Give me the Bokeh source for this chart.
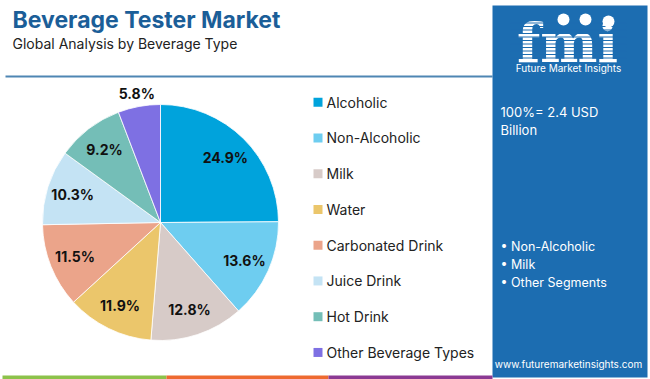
import math
from bokeh.plotting import figure
from bokeh.models import Range1d, ColumnDataSource
from bokeh.core.properties import value
from bokeh.embed import file_html
from bokeh.resources import INLINE

# ---- data ----
categories = ["Alcoholic", "Non-Alcoholic", "Milk", "Water", "Carbonated Drink",
              "Juice Drink", "Hot Drink", "Other Beverage Types"]
shares = [24.9, 13.6, 12.8, 11.9, 11.5, 10.3, 9.2, 5.8]
colors = ["#00A3DC", "#6ECDF0", "#D7CBC8", "#EBC66B", "#EBA48A", "#C4E3F4", "#74BEB7", "#7E70E3"]
title = "Beverage Tester Market"
subtitle = "Global Analysis by Beverage Type"
total_text = ["100%= 2.4 USD", "Billion"]
key_segments = ["Non-Alcoholic", "Milk", "Other Segments"]
url = "www.futuremarketinsights.com"

W, H = 650, 379
FONT = "Inter"

def X(x):  # page x -> data x
    return x

def Y(y):  # page y -> data y
    return H - y

p = figure(width=W, height=H, x_range=Range1d(0, W), y_range=Range1d(0, H),
           x_axis_type=None, y_axis_type=None, toolbar_location=None,
           output_backend="svg", min_border=0)
p.outline_line_color = None
p.grid.visible = False
p.background_fill_color = "white"
p.border_fill_color = "white"

# ---- title ----
p.text(x=[X(12)], y=[Y(19)], text=[title], text_font=value(FONT), text_font_style="bold",
       text_font_size="23px", text_color="#1B5E98", text_baseline="middle", text_align="left")
p.text(x=[X(12)], y=[Y(43)], text=[subtitle], text_font=value(FONT),
       text_font_size="14px", text_color="#222222", text_baseline="middle", text_align="left")
p.segment(x0=[X(5)], y0=[Y(76)], x1=[X(492)], y1=[Y(76)], line_color="#4F86B3", line_width=2)

# ---- pie ----
cx, cy, r = X(160), Y(222), 118
total = sum(shares)
starts, ends, lx, ly, labels = [], [], [], [], []
cum = 0.0
for v in shares:
    a0 = math.pi / 2 - 2 * math.pi * (cum + v) / total
    a1 = math.pi / 2 - 2 * math.pi * cum / total
    starts.append(a0)
    ends.append(a1)
    mid = (a0 + a1) / 2
    d = r * (1.11 if v < 6 else 0.78)
    lx.append(cx + d * math.cos(mid))
    ly.append(cy + d * math.sin(mid))
    labels.append(f"{v:.1f}%")
    cum += v

src = ColumnDataSource(dict(start=starts, end=ends, color=colors, lx=lx, ly=ly, label=labels))
p.wedge(x=cx, y=cy, radius=r, start_angle="start", end_angle="end", fill_color="color",
        line_color="white", line_width=0.8, source=src)
p.text(x="lx", y="ly", text="label", text_font=value(FONT), text_font_style="bold",
       text_font_size="14px", text_color="#111111", text_align="center",
       text_baseline="middle", source=src)

# ---- legend ----
leg_y = [Y(101.7 + 35.75 * i) for i in range(len(categories))]
leg_src = ColumnDataSource(dict(x=[X(317.5)] * len(categories), tx=[X(326)] * len(categories),
                                y=leg_y, name=categories, color=colors))
p.rect(x="x", y="y", width=9, height=9, fill_color="color", line_color=None, source=leg_src)
p.text(x="tx", y="y", text="name", text_font=value(FONT), text_font_size="14px",
       text_color="#222222", text_baseline="middle", text_align="left", source=leg_src)

# ---- right panel ----
PANEL = "#1C6DB1"
p.quad(left=X(492), right=X(647), bottom=Y(377), top=Y(5), fill_color=PANEL, line_color=None)

# logo
p.text(x=[X(567)], y=[Y(42)], text=["fmi"], text_font=value("DejaVu Serif"), text_font_style="bold",
       text_font_size="54px", text_color="white", text_align="center", text_baseline="alphabetic")
for i in range(12):
    yy = Y(19 + i * 3.5)
    p.segment(x0=[X(510)], y0=[yy], x1=[X(626)], y1=[yy], line_color=PANEL, line_width=1)
p.scatter(x=[X(563), X(585), X(608)], y=[Y(19), Y(19), Y(21)], size=12, marker="circle",
          fill_color="white", line_color=None)
p.text(x=[X(568)], y=[Y(67)], text=["Future Market Insights"], text_font=value(FONT),
       text_font_size="10px", text_color="white", text_align="center", text_baseline="middle")

p.text(x=[X(500)] * 2, y=[Y(111), Y(129)], text=total_text, text_font=value(FONT),
       text_font_size="13px", text_color="white", text_align="left", text_baseline="middle")
p.text(x=[X(500)] * 3, y=[Y(246), Y(264), Y(282)], text=["• " + s for s in key_segments],
       text_font=value(FONT), text_font_size="12.5px", text_color="white",
       text_align="left", text_baseline="middle")
p.text(x=[X(568)], y=[Y(363)], text=[url], text_font=value(FONT), text_font_size="10px",
       text_color="white", text_align="center", text_baseline="middle")

# ---- bottom bar ----
p.quad(left=[X(2), X(166), X(328)], right=[X(166), X(328), X(492)], bottom=[Y(379)] * 3,
       top=[Y(375)] * 3, fill_color=["#8CC24A", "#EE6A30", "#8B3A93"], line_color=None)

open("out.html", "w").write(file_html(p, INLINE))
